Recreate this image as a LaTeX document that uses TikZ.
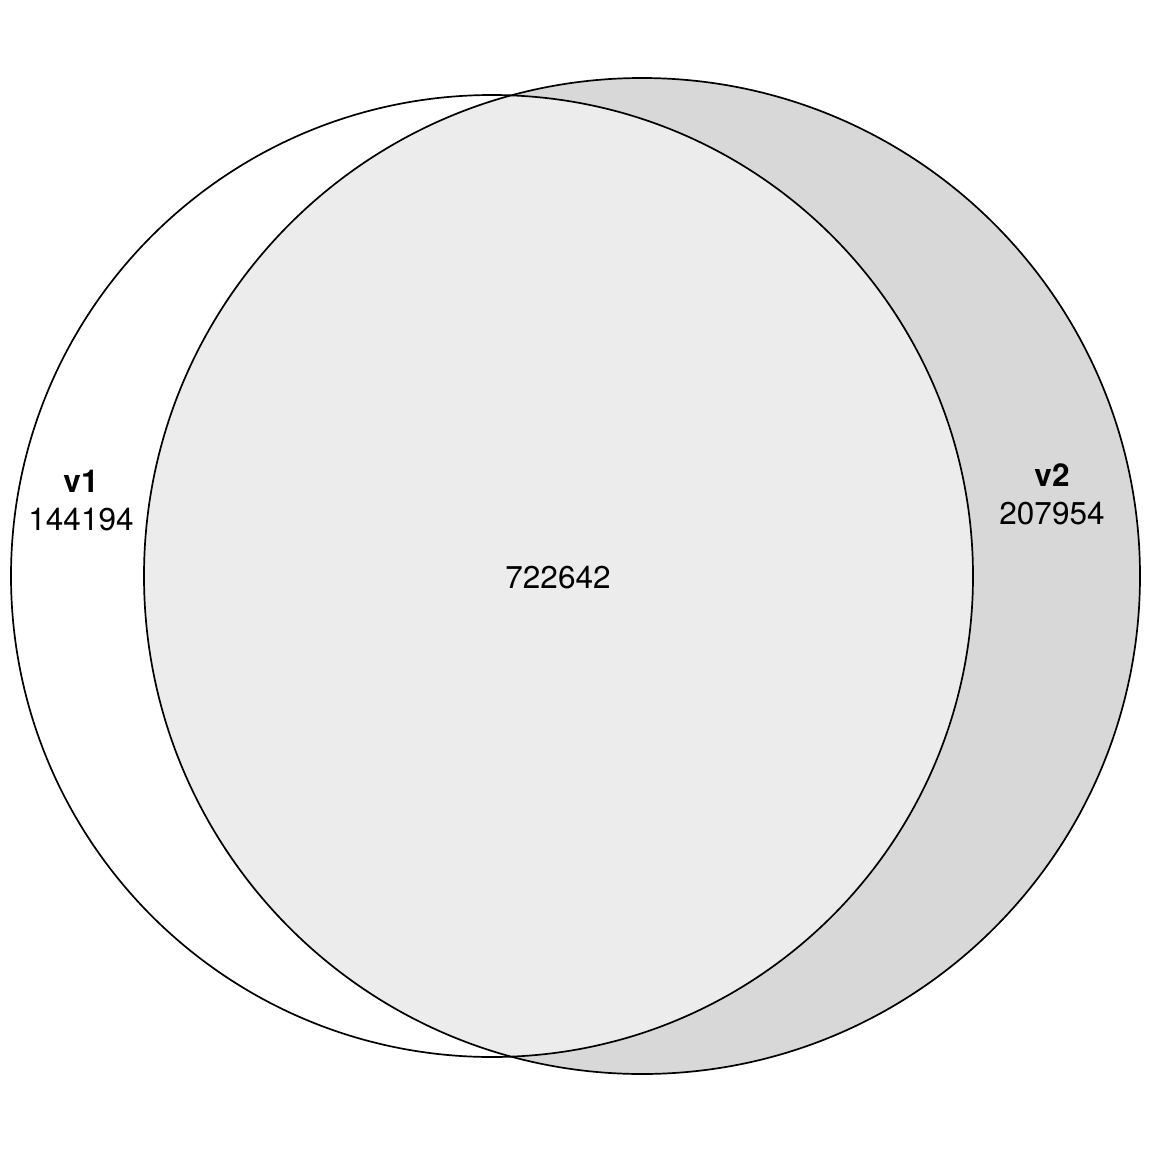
\documentclass[tikz,border=0pt]{standalone}
\usepackage{fontspec}
\setmainfont{TeX Gyre Heros}
\begin{document}
\begin{tikzpicture}[x=1pt,y=-1pt,
  lbl/.style={font=\fontsize{31.5}{38}\selectfont,inner sep=0pt},
  blbl/.style={font=\fontsize{31.5}{38}\selectfont\bfseries,inner sep=0pt},
  circ/.style={draw=black,line width=1.7pt}]
\useasboundingbox (0,0) rectangle (1152,1152);
\fill[white] (0,0) rectangle (1152,1152);
\coordinate (c1) at (492,576);
\coordinate (c2) at (642,576);
\fill[fill={rgb,255:red,216;green,216;blue,216}] (c2) circle[radius=498];
\begin{scope}
  \clip (c1) circle[radius=481];
  \fill[fill={rgb,255:red,236;green,236;blue,236}] (c2) circle[radius=498];
\end{scope}
\draw[circ] (c1) circle[radius=481];
\draw[circ] (c2) circle[radius=498];
\node[blbl] (n1) at (81,481) {v1};
\node[lbl] (m1) at (81,520) {144194};
\node[blbl] (n2) at (1052,475) {v2};
\node[lbl] (m2) at (1052,514) {207954};
\node[lbl] (m12) at (558,578) {722642};
\end{tikzpicture}
\end{document}
